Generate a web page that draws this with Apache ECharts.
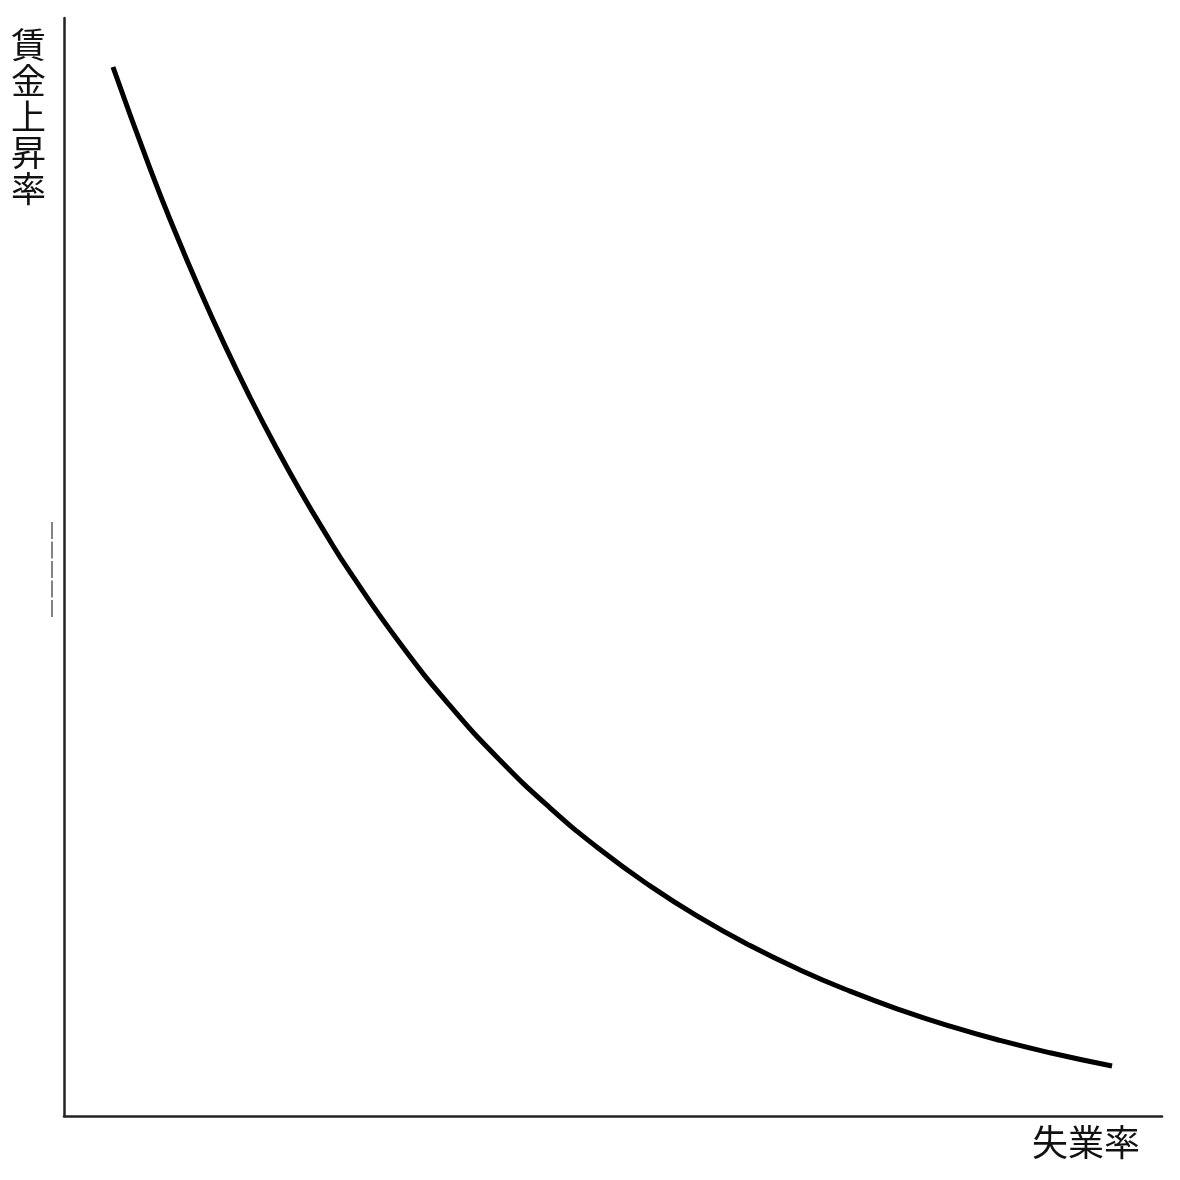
<!DOCTYPE html>
<html>
<head>
<meta charset="utf-8">
<script src="https://cdn.jsdelivr.net/npm/echarts@6/dist/echarts.min.js"></script>
<style>html,body{margin:0;padding:0;background:#fff}#c{width:1180px;height:1180px}</style>
</head>
<body>
<div id="c"></div>
<script>
// Unemployment rate (x) and wage growth rate (y) (axes 0–10)
const unemployment = [0.446, 0.783, 1.011, 1.239, 1.466, 1.694, 1.922, 2.149, 2.377, 2.605, 3.060, 3.515, 3.971, 4.426, 4.882, 5.337, 5.792, 6.248, 6.703, 7.158, 7.614, 8.069, 8.525, 8.980, 9.545];
const wageGrowth   = [9.554, 8.630, 8.055, 7.517, 7.016, 6.546, 6.107, 5.697, 5.313, 4.953, 4.305, 3.737, 3.240, 2.807, 2.427, 2.096, 1.806, 1.552, 1.330, 1.137, 0.967, 0.818, 0.688, 0.576, 0.455];
const xAxisName = '失業率';
const yAxisName = '賃金上昇率';

const chart = echarts.init(document.getElementById('c'), null, {renderer: 'canvas'});
const cjk = '"Noto Sans CJK JP", "Noto Sans CJK SC", sans-serif';
chart.setOption({
  backgroundColor: '#fff',
  animation: false,
  grid: {left: 64, top: 18, right: 18, bottom: 64, containLabel: false},
  xAxis: {
    type: 'value', min: 0, max: 10,
    axisLine: {lineStyle: {color: '#222', width: 2.5}},
    axisTick: {show: false}, axisLabel: {show: false}, splitLine: {show: false},
    name: xAxisName, nameLocation: 'end', nameGap: -22,
    nameTextStyle: {fontFamily: cjk, fontSize: 36, color: '#111', align: 'right', verticalAlign: 'top', padding: [8, 0, 0, 0]}
  },
  yAxis: {
    type: 'value', min: 0, max: 10,
    axisLine: {lineStyle: {color: '#222', width: 2.5}},
    axisTick: {show: false}, axisLabel: {show: false}, splitLine: {show: false}
  },
  graphic: [
    {
      type: 'text', left: 11, top: 27,
      style: {text: yAxisName.split('').join('\n'), font: '35px ' + cjk, lineHeight: 36, fill: '#111'}
    },
    {
      type: 'line', shape: {x1: 52, y1: 522, x2: 52, y2: 618},
      style: {stroke: '#333', lineWidth: 1.2, lineDash: [17, 2.5]}
    }
  ],
  series: [{
    type: 'line',
    data: unemployment.map((u, i) => [u, wageGrowth[i]]),
    smooth: 0.5,
    showSymbol: false,
    lineStyle: {color: '#000', width: 5, cap: 'butt'}
  }]
});
</script>
</body>
</html>
